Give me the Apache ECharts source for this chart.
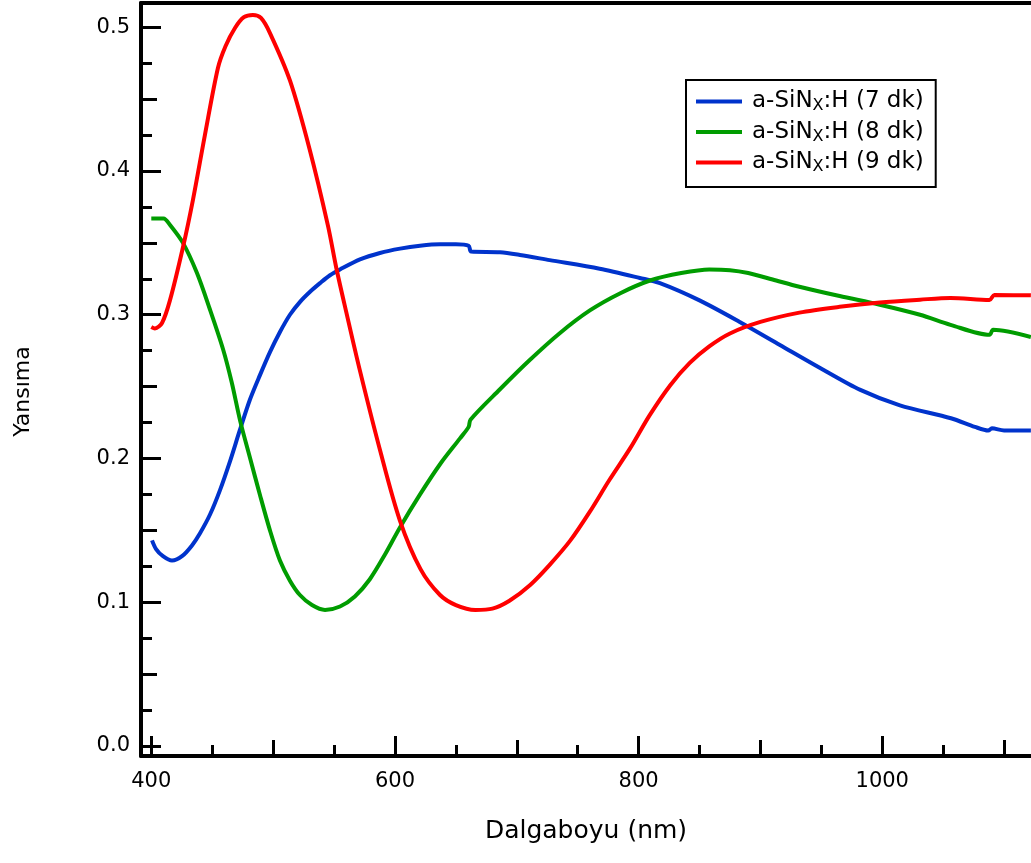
<!DOCTYPE html>
<html>
<head>
<meta charset="utf-8">
<script src="https://cdn.jsdelivr.net/npm/echarts@6/dist/echarts.min.js"></script>
<style>
  html, body { margin: 0; padding: 0; background: #fff; }
  #chart { width: 1031px; height: 863px; }
</style>
</head>
<body>
<div id="chart"></div>
<script>
// --- veriler ---
const seriesNames = ['a-SiNX:H (7 dk)', 'a-SiNX:H (8 dk)', 'a-SiNX:H (9 dk)'];

const wl7 = [400.6, 403.9, 409.6, 417, 425.2, 433.4, 440, 448.2, 456.4, 464.6, 472.8, 481, 489.2, 497.4,
  505.6, 513.8, 522.1, 530.3, 538.5, 546.7, 554.9, 571.3, 587.7, 604.2, 620.6, 637, 650, 660.5, 662.5,
  686.3, 702.6, 727, 768, 801, 817.5, 850, 883, 916, 949, 982, 1014.5, 1056.4, 1076, 1087, 1090, 1100, 1122];
const r7 = [0.143, 0.137, 0.132, 0.129, 0.132, 0.1395, 0.148, 0.161, 0.178, 0.198, 0.220, 0.241, 0.258, 0.274,
  0.288, 0.300, 0.309, 0.316, 0.322, 0.3275, 0.3315, 0.3385, 0.343, 0.346, 0.348, 0.349, 0.349, 0.348, 0.344,
  0.3435, 0.3416, 0.338, 0.332, 0.3256, 0.322, 0.310, 0.295, 0.279, 0.263, 0.2477, 0.237, 0.228, 0.222, 0.2195, 0.221, 0.2195, 0.2195];

const wl8 = [400, 410, 415.4, 426, 437.5, 448, 458.9, 466, 473, 481, 489.2, 497.4, 505.6, 513.8, 522, 531.9,
  542.6, 554.9, 567.1, 579.4, 591.7, 604.1, 620.6, 637, 653.4, 660.5, 662, 686, 710, 735, 760, 785, 810,
  835, 858, 875, 890, 910, 932, 965, 998, 1031, 1056, 1088, 1091, 1122];
const r8 = [0.367, 0.367, 0.3625, 0.350, 0.329, 0.304, 0.276, 0.253, 0.226, 0.2005, 0.1746, 0.150, 0.129, 0.115, 0.105, 0.098,
  0.0946, 0.097, 0.104, 0.116, 0.133, 0.152, 0.175, 0.196, 0.214, 0.222, 0.227, 0.248, 0.268, 0.287, 0.303, 0.315, 0.324,
  0.329, 0.3315, 0.331, 0.329, 0.3245, 0.3195, 0.313, 0.307, 0.300, 0.293, 0.286, 0.2895, 0.2845];

const wl9 = [400, 403, 408.8, 415.3, 426, 434.2, 444, 454.7, 461, 468.7, 476, 483.4, 490, 497.4, 513.8,
  530, 545, 552, 560, 571, 588, 604, 621, 637, 650, 666, 680, 694, 711, 727, 744, 760, 776, 793, 809,
  826, 842, 858, 875, 900, 932, 965, 998, 1031, 1056, 1088, 1092, 1122];
const r9 = [0.2915, 0.2905, 0.2943, 0.310, 0.347, 0.380, 0.425, 0.4717, 0.487, 0.4995, 0.507, 0.5086, 0.5065, 0.496, 0.463,
  0.415, 0.362, 0.332, 0.302, 0.262, 0.205, 0.157, 0.123, 0.105, 0.098, 0.0946, 0.0955, 0.101, 0.112, 0.126, 0.143, 0.163, 0.185, 0.207, 0.230,
  0.251, 0.2665, 0.278, 0.287, 0.295, 0.3015, 0.3055, 0.3085, 0.3105, 0.3117, 0.3103, 0.3138, 0.3135];

const xMajor = [400, 600, 800, 1000];
const xMid = [500, 700, 900, 1100];
const xMinor = [450, 550, 650, 750, 850, 950, 1050];
const yMajor = [0, 0.1, 0.2, 0.3, 0.4, 0.5];
const yMid = [0.05, 0.15, 0.25, 0.35, 0.45];
const yMinor = [0.025, 0.075, 0.125, 0.175, 0.225, 0.275, 0.325, 0.375, 0.425, 0.475];

const colors = ['#0033cc', '#009c00', '#ff0000'];

const FONT = '"DejaVu Sans", sans-serif';
const X_MIN = 391.55, X_MAX = 1122.1;
const Y_MIN = -0.007, Y_MAX = 0.5169;

function zip(xs, ys) {
    let out = [];
    for (let i = 0; i < xs.length; i++) {
        out.push([xs[i], ys[i]]);
    }
    return out;
}

// ayni eksen uzerinde farkli uzunlukta tikler icin ust uste eksenler
function xTickAxis(values, len, withLabel) {
    return {
        type: 'value', min: X_MIN, max: X_MAX, position: 'bottom',
        axisLine: { show: withLabel, onZero: false, lineStyle: { color: '#000', width: 4 } },
        axisTick: { show: true, inside: true, length: len, customValues: values, lineStyle: { color: '#000', width: 3 } },
        axisLabel: {
            show: withLabel, customValues: values, color: '#000', fontSize: 21, fontFamily: FONT, margin: 15,
            formatter: (v) => String(v)
        },
        splitLine: { show: false },
        name: withLabel ? 'Dalgaboyu (nm)' : '',
        nameLocation: 'middle',
        nameGap: 63,
        nameTextStyle: { color: '#000', fontSize: 25, fontFamily: FONT }
    };
}

function yTickAxis(values, len, withLabel) {
    return {
        type: 'value', min: Y_MIN, max: Y_MAX, position: 'left',
        axisLine: { show: withLabel, onZero: false, lineStyle: { color: '#000', width: 4 } },
        axisTick: { show: true, inside: true, length: len, customValues: values, lineStyle: { color: '#000', width: 3 } },
        axisLabel: {
            show: withLabel, customValues: values, color: '#000', fontSize: 21, fontFamily: FONT, margin: 11,
            formatter: (v) => v.toFixed(1)
        },
        splitLine: { show: false },
        name: withLabel ? 'Yansıma' : '',
        nameLocation: 'middle',
        nameGap: 107,
        nameTextStyle: { color: '#000', fontSize: 22, fontFamily: FONT, padding: [0, 24, 0, 0] }
    };
}

let chart = echarts.init(document.getElementById('chart'));

let topAxis = {
    type: 'value', min: X_MIN, max: X_MAX, position: 'top',
    axisLine: { show: true, onZero: false, lineStyle: { color: '#000', width: 4 } },
    axisTick: { show: false }, axisLabel: { show: false }, splitLine: { show: false }
};

let seriesData = [zip(wl7, r7), zip(wl8, r8), zip(wl9, r9)];
let series = [];
for (let i = 0; i < seriesNames.length; i++) {
    series.push({
        type: 'line',
        name: seriesNames[i],
        data: seriesData[i],
        showSymbol: false,
        symbol: 'none',
        smooth: 0.3,
        clip: true,
        lineStyle: { color: colors[i], width: 4 },
        itemStyle: { color: colors[i] }
    });
}

let option = {
    animation: false,
    backgroundColor: '#fff',
    grid: { left: 141, right: 0, top: 3, bottom: 107 },
    xAxis: [
        xTickAxis(xMajor, 20, true),
        xTickAxis(xMid, 16, false),
        xTickAxis(xMinor, 11, false),
        topAxis
    ],
    yAxis: [
        yTickAxis(yMajor, 20, true),
        yTickAxis(yMid, 16, false),
        yTickAxis(yMinor, 11, false)
    ],
    legend: {
        orient: 'vertical',
        left: 686,
        top: 80,
        padding: [10, 12, 12, 10],
        itemGap: 6.5,
        itemWidth: 46,
        itemHeight: 4,
        icon: 'rect',
        borderColor: '#000',
        borderWidth: 2,
        backgroundColor: '#fff',
        data: seriesNames,
        formatter: (name) => {
            let parts = name.split('SiNX');
            return '{n|' + parts[0] + 'SiN}{s|X}{m|' + parts[1] + '}';
        },
        textStyle: {
            color: '#000',
            fontFamily: FONT,
            fontSize: 23,
            rich: {
                n: { fontSize: 23, lineHeight: 25, fontFamily: FONT, color: '#000', padding: [0, 0, 0, 5] },
                s: { fontSize: 16, lineHeight: 13, fontFamily: FONT, color: '#000', verticalAlign: 'bottom' },
                m: { fontSize: 23, lineHeight: 25, fontFamily: FONT, color: '#000' }
            }
        }
    },
    series: series
};

chart.setOption(option);
</script>
</body>
</html>
